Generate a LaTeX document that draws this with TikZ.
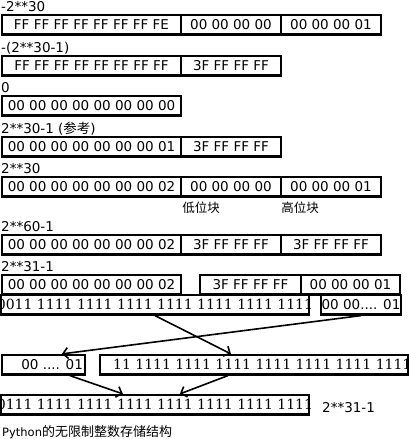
\documentclass[tikz,border=0pt]{standalone}
\usepackage{fontspec}
\setmainfont{DejaVu Sans}
\newfontfamily\binfont{DejaVu Serif}
\newfontfamily\cjk{Noto Sans CJK SC}
\usetikzlibrary{arrows.meta}
\tikzset{%
  mybox/.style={draw=black, line width=2.2pt, inner sep=0pt, minimum height=19.5pt},
  myedge/.style={-{Straight Barb[length=5pt,width=11pt]}, line width=1.6pt},
  mylabel/.style={anchor=base west, inner sep=0pt},
  mybin/.style={inner sep=0pt, font=\binfont\fontsize{14}{16}\selectfont}
}

\begin{document}
\begin{tikzpicture}[x=1pt, y=-1pt, font=\fontsize{13.5}{16}\selectfont]
\useasboundingbox (0,0) rectangle (409,439);

% boxes: name / left / right / top / text
\foreach \n / \l / \r / \t / \txt in {
  r1a/2/181/15/{FF FF FF FF FF FF FF FE}, r1b/181/281/15/{00 00 00 00}, r1c/281/381/15/{00 00 00 01},
  r2a/2/181/56/{FF FF FF FF FF FF FF FF}, r2b/181/281/56/{3F FF FF FF},
  r3a/2/181/96/{00 00 00 00 00 00 00 00},
  r4a/2/181/137/{00 00 00 00 00 00 00 01}, r4b/181/281/137/{3F FF FF FF},
  r5a/2/181/177/{00 00 00 00 00 00 00 02}, r5b/181/281/177/{00 00 00 00}, r5c/281/381/177/{00 00 00 01},
  r6a/2/181/235/{00 00 00 00 00 00 00 02}, r6b/181/281/235/{3F FF FF FF}, r6c/281/381/235/{3F FF FF FF},
  r7a/2/181/275/{00 00 00 00 00 00 00 02}, r7b/200/301/275/{3F FF FF FF}, r7c/301/400/275/{00 00 00 01},
  r8a/1/309/295/{}, r8b/321/401/295/{00 00.... 01},
  r9a/2/85/355/{}, r9b/100/408/355/{},
  r10a/1/309/395/{}}{
  \node [mybox, minimum width={(\r-\l)*1pt}] (\n) at ({(\l+\r)/2}, {\t+9.75}) {\txt};
}

% row labels
\foreach \n / \y / \txt in {l1/11/{-2**30}, l2/52/{-(2**30-1)}, l3/92/{0},
  l4/133/{2**30-1 ({\cjk 参考})}, l5/173/{2**30}, l6/231/{2**60-1}, l7/271/{2**31-1}}{
  \node [mylabel] (\n) at (1,\y) {\txt};
}

\node [font=\cjk\fontsize{12.5}{14}\selectfont] (lo) at (201,208) {低位块};
\node [font=\cjk\fontsize{12.5}{14}\selectfont] (hi) at (300,208) {高位块};

% bits, cut off by the boxes
\begin{scope}
  \clip (r8a.north west) rectangle (r8a.south east);
  \node [mybin] (r8t) at (r8a) {0011 1111 1111 1111 1111 1111 1111 1111};
\end{scope}
\begin{scope}
  \clip (r9b.north west) rectangle (r9b.south east);
  \node [mybin, anchor=west] (r9t) at ([xshift=14pt]r9b.west) {11 1111 1111 1111 1111 1111 1111 1111};
\end{scope}
\begin{scope}
  \clip (r10a.north west) rectangle (r10a.south east);
  \node [mybin] (r10t) at (r10a) {0111 1111 1111 1111 1111 1111 1111 1111};
\end{scope}
\node [inner sep=0pt, anchor=east] (r9s) at ([xshift=-3pt]r9a.east) {00 .... 01};

\node [mylabel] (l8) at (322,412) {2**31-1};

% swap
\draw [myedge] (r8a.south) -- ([xshift=132pt]r9b.north west);
\draw [myedge] (r8b.south) -- ([xshift=61pt]r9a.north west);
\draw [myedge] ([xshift=69pt]r9a.south west) -- ([xshift=123pt]r10a.north west);
\draw [myedge] ([xshift=129pt]r9b.south west) -- ([xshift=180pt]r10a.north west);

\node [anchor=west, inner sep=0pt, font=\fontsize{11.5}{13}\selectfont] (cap) at (2,432) {Python{\cjk\fontsize{13}{14}\selectfont 的无限制整数存储结构}};

\end{tikzpicture}
\end{document}
